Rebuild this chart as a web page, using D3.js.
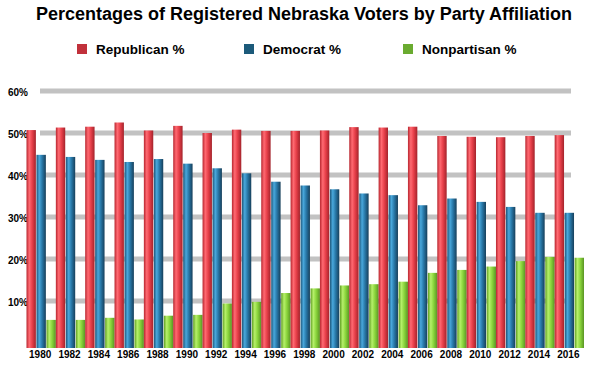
<!DOCTYPE html>
<html>
<head>
<meta charset="utf-8">
<script src="https://cdn.jsdelivr.net/npm/d3@7"></script>
<style>
  body { margin: 0; background: #fff; }
  text { font-family: "Liberation Sans", Arial, sans-serif; font-weight: bold; }
</style>
</head>
<body>
<div id="chart"></div>
<script>
// Data
const years = [1980, 1982, 1984, 1986, 1988, 1990, 1992, 1994, 1996, 1998,
  2000, 2002, 2004, 2006, 2008, 2010, 2012, 2014, 2016];
const republican = [50.7, 51.3, 51.5, 52.5, 50.6, 51.7, 50.0, 50.8, 50.5, 50.5,
  50.6, 51.4, 51.3, 51.5, 49.3, 49.1, 49.0, 49.3, 49.5];
const democrat = [44.8, 44.3, 43.6, 43.1, 43.8, 42.7, 41.6, 40.4, 38.4, 37.5,
  36.6, 35.6, 35.2, 32.8, 34.4, 33.6, 32.4, 31.0, 31.0];
const nonpartisan = [5.5, 5.5, 6.0, 5.6, 6.5, 6.7, 9.4, 9.8, 11.9, 13.0,
  13.7, 14.0, 14.6, 16.7, 17.4, 18.2, 19.5, 20.5, 20.3];
const seriesNames = ["Republican %", "Democrat %", "Nonpartisan %"];
const yTicks = [10, 20, 30, 40, 50, 60];

const legendColor = ["#c1313b", "#1c5a7a", "#6aab30"];
// left edge, highlight, body, right edge
const barStops = [
  ["#b8262f", "#ff6a72", "#e8404a", "#a3232b"],
  ["#1d5578", "#49a8dc", "#2878a8", "#173f5a"],
  ["#5f9e22", "#b6f06a", "#8ad53c", "#5a9424"],
];

const W = 594, H = 375;
const svg = d3.select("#chart").append("svg")
  .attr("width", W).attr("height", H);

const depth = 5; // bars stand this far in front of the back wall

const x = d3.scaleBand().domain(years).range([26.5, 584]).paddingInner(0);
const xs = d3.scaleBand().domain([0, 1, 2]).range([0, x.bandwidth()]).paddingInner(0.06);
const y = d3.scaleLinear().domain([0, 60]).range([343, 91]);

// Gradients
const defs = svg.append("defs");
barStops.forEach((s, i) => {
  const g = defs.append("linearGradient").attr("id", "g" + i)
    .attr("x1", "0%").attr("x2", "100%").attr("y1", "0%").attr("y2", "0%");
  g.append("stop").attr("offset", "0%").attr("stop-color", s[0]);
  g.append("stop").attr("offset", "30%").attr("stop-color", s[1]);
  g.append("stop").attr("offset", "60%").attr("stop-color", s[2]);
  g.append("stop").attr("offset", "100%").attr("stop-color", s[3]);
});

// Title
svg.append("text")
  .attr("x", W / 2 + 7).attr("y", 20)
  .attr("text-anchor", "middle")
  .style("font-size", "18px")
  .text("Percentages of Registered Nebraska Voters by Party Affiliation");

// Legend
const legendX = [77, 244, 403];
const legend = svg.selectAll(".legend").data(seriesNames).enter()
  .append("g").attr("class", "legend")
  .attr("transform", (d, i) => `translate(${legendX[i]},44)`);
legend.append("rect").attr("width", 10).attr("height", 10)
  .attr("fill", (d, i) => legendColor[i]);
legend.append("text").attr("x", 19).attr("y", 10)
  .style("font-size", "13.5px").text(d => d);

// Gridlines (back wall)
svg.selectAll(".grid").data(yTicks).enter()
  .append("line").attr("class", "grid")
  .attr("x1", 40).attr("x2", 571)
  .attr("y1", d => y(d)).attr("y2", d => y(d))
  .attr("stroke", "#c2c2c2").attr("stroke-width", 5);

// Y axis labels
const yAxis = svg.append("g")
  .attr("transform", "translate(28,0)")
  .call(d3.axisLeft(y).tickValues(yTicks).tickFormat(d => d + "%").tickSize(0).tickPadding(0));
yAxis.select(".domain").remove();
yAxis.selectAll("text").style("font-size", "10px")
  .style("font-family", "'Liberation Sans', Arial, sans-serif")
  .attr("fill", "#000").attr("dy", "0.4em");

// Bars
const series = [republican, democrat, nonpartisan];
const groups = svg.selectAll(".year").data(years).enter()
  .append("g").attr("class", "year")
  .attr("transform", d => `translate(${x(d)},0)`);
groups.selectAll("rect")
  .data((d, i) => series.map((s, k) => ({ k, v: s[i] })))
  .enter().append("rect")
  .attr("x", d => xs(d.k))
  .attr("width", xs.bandwidth())
  .attr("y", d => y(d.v))
  .attr("height", d => y(0) + depth - y(d.v))
  .attr("fill", d => `url(#g${d.k})`);

// X axis labels
const xAxis = svg.append("g")
  .attr("transform", `translate(-1,${y(0) + depth + 3})`)
  .call(d3.axisBottom(x).tickSize(0).tickPadding(0));
xAxis.select(".domain").remove();
xAxis.selectAll("text").style("font-size", "10px")
  .style("font-family", "'Liberation Sans', Arial, sans-serif")
  .attr("fill", "#000");
</script>
</body>
</html>
